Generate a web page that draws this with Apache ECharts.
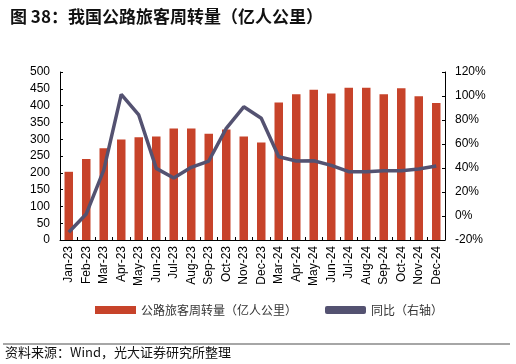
<!DOCTYPE html>
<html><head><meta charset="utf-8">
<script src="https://cdn.jsdelivr.net/npm/echarts@6/dist/echarts.min.js"></script>
<style>html,body{margin:0;padding:0;background:#fff}#c{width:516px;height:364px}</style>
</head><body><div id="c"></div>
<script>
const categories = ['Jan-23','Feb-23','Mar-23','Apr-23','May-23','Jun-23','Jul-23','Aug-23','Sep-23','Oct-23','Nov-23','Dec-23','Mar-24','Apr-24','May-24','Jun-24','Jul-24','Aug-24','Sep-24','Oct-24','Nov-24','Dec-24'];
const volume = [203,241,273,299,306,308,332,332,316,329,308,290,409,434,447,436,453,453,434,452,428,408];
const yoy = [-13.6,1.7,38.3,101.4,84.2,39.7,31.7,40.6,45.8,73,91,81.4,49.4,45.8,46,42.2,36.9,36.9,37.7,37.7,39.2,41.7];
const leftTicks = {min:0,max:500,interval:50};
const rightTicks = {min:-20,max:120,interval:20};

const FONT = '"Liberation Sans","Noto Sans CJK SC",Arial,sans-serif';
const CJK = '"Noto Sans CJK SC",sans-serif';
const chart = echarts.init(document.getElementById('c'));
chart.setOption({
  animation:false,
  textStyle:{fontFamily:FONT},
  title:{text:'图 38：我国公路旅客周转量（亿人公里）',left:5,top:3,textStyle:{fontSize:17,fontWeight:'bold',color:'#111',fontFamily:CJK}},
  grid:{left:60,right:71,top:72,bottom:124},
  legend:{bottom:43,left:90,itemGap:28,itemWidth:41,itemHeight:8,
    textStyle:{fontSize:12,color:'#333',fontFamily:CJK},
    data:[{name:'公路旅客周转量（亿人公里）',icon:'rect'},{name:'同比（右轴）',icon:'roundRect'}]},
  xAxis:{type:'category',data:categories,
    axisLine:{lineStyle:{color:'#000',width:1}},
    axisTick:{show:true,inside:true,length:3,lineStyle:{color:'#000'}},
    axisLabel:{rotate:90,fontSize:12,color:'#000',margin:6,interval:0,fontFamily:FONT}},
  yAxis:[
    {type:'value',min:leftTicks.min,max:leftTicks.max,interval:leftTicks.interval,
     axisLine:{show:true,lineStyle:{color:'#000'}},
     axisTick:{show:true,inside:true,length:3,lineStyle:{color:'#000'}},
     splitLine:{show:false},
     axisLabel:{fontSize:12,color:'#000',margin:10,fontFamily:FONT}},
    {type:'value',min:rightTicks.min,max:rightTicks.max,interval:rightTicks.interval,
     axisLine:{show:true,lineStyle:{color:'#000'}},
     axisTick:{show:true,inside:true,length:3,lineStyle:{color:'#000'}},
     splitLine:{show:false},
     axisLabel:{fontSize:12,color:'#000',margin:10,formatter:'{value}%',fontFamily:FONT}}
  ],
  series:[
    {name:'公路旅客周转量（亿人公里）',type:'bar',data:volume,barWidth:8.5,yAxisIndex:0,
     itemStyle:{color:'#C7432A'}},
    {name:'同比（右轴）',type:'line',data:yoy,yAxisIndex:1,symbol:'none',
     lineStyle:{color:'#545271',width:3.5},itemStyle:{color:'#545271'}}
  ],
  graphic:[
    {type:'line',shape:{x1:3,y1:344,x2:510,y2:344},style:{stroke:'#888',lineWidth:1.5}},
    {type:'text',left:5,top:346,style:{text:'资料来源：Wind，光大证券研究所整理',fontSize:13,fill:'#111',fontFamily:CJK}}
  ]
});
</script></body></html>
